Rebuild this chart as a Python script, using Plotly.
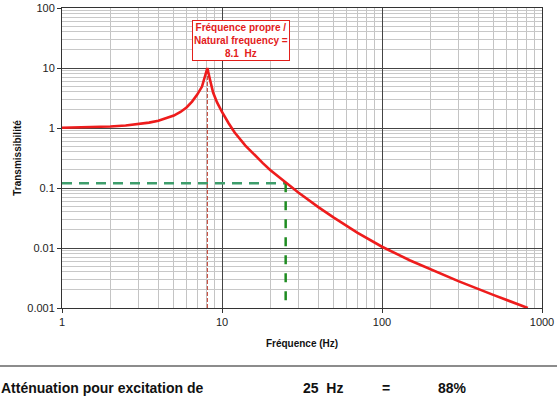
import plotly.graph_objects as go

# Data
freq_hz = [1, 1.5, 2, 2.5, 3, 3.5, 4, 4.5, 5, 5.5, 6, 6.5, 7, 7.5, 7.8, 8.1, 8.4, 8.8, 9.3,
           10, 11, 12, 14, 16, 18, 20, 25, 30, 40, 50, 70, 100, 150, 200, 300, 500, 815]
transmissibility = [1.01, 1.03, 1.06, 1.1, 1.16, 1.23, 1.32, 1.45, 1.61, 1.85, 2.2, 2.75,
                    3.6, 4.9, 6.8, 10, 6.5, 3.9, 2.7, 1.85, 1.2, 0.84, 0.51, 0.35, 0.26,
                    0.2, 0.122, 0.084, 0.048, 0.032, 0.018, 0.0105, 0.0062, 0.0044,
                    0.0028, 0.00164, 0.001]
natural_freq = 8.1
excitation_freq = 25
excitation_trans = 0.12
attenuation_pct = 88
y_floor = 0.001
x_start = 1

x_major = [1, 10, 100, 1000]
x_major_labels = ["1", "10", "100", "1000"]
y_major = [0.001, 0.01, 0.1, 1, 10, 100]
y_major_labels = ["0.001", "0.01", "0.1", "1", "10", "100"]
x_minor = [m * d for d in [1, 10, 100] for m in range(2, 10)]
y_minor = [m * d for d in [0.001, 0.01, 0.1, 1, 10] for m in range(2, 10)]

fig = go.Figure()

# green guide lines
fig.add_trace(go.Scatter(x=[x_start, excitation_freq], y=[excitation_trans, excitation_trans],
                         mode="lines", line=dict(color="#3f9e6c", width=2.5, dash="10px,7px"),
                         hoverinfo="skip", showlegend=False))
fig.add_trace(go.Scatter(x=[excitation_freq, excitation_freq], y=[excitation_trans, y_floor],
                         mode="lines", line=dict(color="#1f8c22", width=2.5, dash="9px,9px"),
                         hoverinfo="skip", showlegend=False))
# natural frequency marker
fig.add_trace(go.Scatter(x=[natural_freq, natural_freq], y=[y_floor, 10],
                         mode="lines", line=dict(color="#c0392b", width=1, dash="4px,2px"),
                         hoverinfo="skip", showlegend=False))
# transmissibility curve
fig.add_trace(go.Scatter(x=freq_hz, y=transmissibility, mode="lines",
                         line=dict(color="#ee1c1c", width=2.6),
                         showlegend=False))

axis_font = dict(family="Liberation Sans, Arial, sans-serif", size=11, color="#222222")

fig.update_xaxes(type="log", range=[0, 3], tickmode="array", tickvals=x_major,
                 ticktext=x_major_labels, ticks="outside", ticklen=4, tickcolor="#333",
                 showgrid=True, gridcolor="#444444", gridwidth=1,
                 minor=dict(tickmode="array", tickvals=x_minor, showgrid=True,
                            gridcolor="#c4c4c4", gridwidth=1, ticks=""),
                 showline=True, linecolor="#333333", linewidth=1, mirror=True,
                 zeroline=False, tickfont=axis_font, automargin=False,
                 title=dict(text="<b>Fréquence (Hz)</b>", standoff=12,
                            font=dict(family="Liberation Sans, Arial, sans-serif", size=10, color="#111")))
fig.update_yaxes(type="log", range=[-3, 2], tickmode="array", tickvals=y_major,
                 ticktext=y_major_labels, ticks="outside", ticklen=4, tickcolor="#333",
                 showgrid=True, gridcolor="#444444", gridwidth=1,
                 minor=dict(tickmode="array", tickvals=y_minor, showgrid=True,
                            gridcolor="#c8c8c8", gridwidth=1, ticks=""),
                 showline=True, linecolor="#333333", linewidth=1, mirror=True,
                 zeroline=False, tickfont=axis_font, automargin=False,
                 title=dict(text="<b>Transmissibilité</b>", standoff=3,
                            font=dict(family="Liberation Sans, Arial, sans-serif", size=10, color="#111")))

L, R, T, B = 62, 15, 8, 89
W, H = 557, 397
pw, ph = W - L - R, H - T - B

def px(xp):
    return (xp - L) / pw

def py(yp):
    return (H - B - yp) / ph

red = "#e3201b"
fig.add_annotation(x=px(240.5), y=py(40), xref="paper", yref="paper",
                   xanchor="center", yanchor="middle",
                   text="<b>Fréquence propre /<br>Natural frequency =<br>%s  Hz</b>" % natural_freq,
                   showarrow=False, bgcolor="white", bordercolor=red, borderwidth=1, borderpad=1,
                   font=dict(family="Liberation Sans, Arial, sans-serif", size=10, color=red),
                   align="center")

bottom_font = dict(family="Liberation Sans, Arial, sans-serif", size=14, color="#111111")
fig.add_shape(type="line", xref="paper", yref="paper", x0=px(0), x1=px(W), y0=py(366), y1=py(366),
              line=dict(color="#666666", width=1.5))
fig.add_annotation(x=px(-1), y=py(388), xref="paper", yref="paper", xanchor="left", yanchor="middle",
                   text="<b>Atténuation pour excitation de</b>", showarrow=False, font=bottom_font)
fig.add_annotation(x=px(301), y=py(388), xref="paper", yref="paper", xanchor="left", yanchor="middle",
                   text="<b>%d  Hz</b>" % excitation_freq, showarrow=False, font=bottom_font)
fig.add_annotation(x=px(386), y=py(388), xref="paper", yref="paper", xanchor="center", yanchor="middle",
                   text="<b>=</b>", showarrow=False, font=bottom_font)
fig.add_annotation(x=px(436), y=py(388), xref="paper", yref="paper", xanchor="left", yanchor="middle",
                   text="<b>%d%%</b>" % attenuation_pct, showarrow=False, font=bottom_font)

fig.update_layout(width=W, height=H, margin=dict(l=L, r=R, t=T, b=B),
                  paper_bgcolor="white", plot_bgcolor="white", showlegend=False)

fig.write_html("out.html", config={"displayModeBar": False},
               post_script="document.body.style.margin='0';")
